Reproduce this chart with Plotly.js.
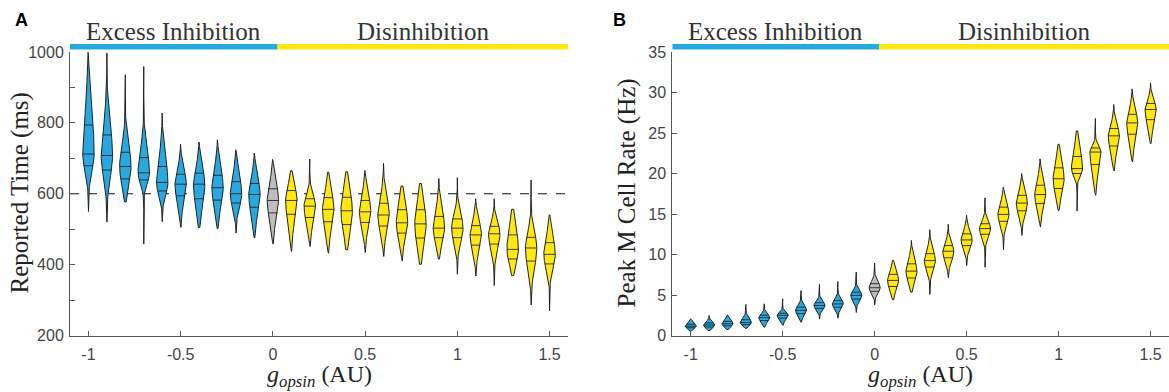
<!DOCTYPE html>
<html>
<head>
<meta charset="utf-8">
<script src="https://cdn.plot.ly/plotly-3.0.1.min.js"></script>
<style>html,body{margin:0;padding:0;background:#fff;}#chart{width:1169px;height:392px;}</style>
</head>
<body>
<div id="chart"></div>
<script>
// g_opsin values (categories)
const gOpsin = [-1,-0.9,-0.8,-0.7,-0.6,-0.5,-0.4,-0.3,-0.2,-0.1,0,0.1,0.2,0.3,0.4,0.5,0.6,0.7,0.8,0.9,1.0,1.1,1.2,1.3,1.4,1.5];
const xTickVals = [-1,-0.5,0,0.5,1,1.5];
const xTickText = ['-1','-0.5','0','0.5','1','1.5'];

// Panel A: Reported Time (ms) summary per violin
const aMin = [550,520,577,458,521,505,505,502,489,476,458,437,451,432,442,434,423,410,401,416,373,368,341,369,286,270];
const aQ1  = [679,667,642,639,608,594,586,582,574,562,546,542,533,521,513,519,509,489,475,476,476,455,458,416,410,402];
const aMed = [712,708,677,659,632,627,627,617,600,598,581,581,565,556,552,549,540,518,515,503,503,484,487,443,447,429];
const aQ3  = [794,766,717,702,677,655,658,652,634,629,614,609,586,589,590,581,573,555,555,536,529,510,508,484,477,462];
const aMax = [999,997,936,959,828,740,746,752,724,715,697,665,698,661,662,666,686,622,629,643,645,586,586,556,639,540];
const aTickVals = [200,300,400,500,600,700,800,900,1000];
const aTickText = ['200','','400','','600','','800','','1000'];
const aRef = 600;

// Panel B: Peak M Cell Rate (Hz) summary per violin
const bMin = [0.55,0.62,0.74,0.9,1.03,1.24,1.65,2.02,2.14,2.84,3.79,4.41,5.36,5.07,7.13,8.65,8.44,10.59,12.36,13.39,15.45,15.36,17.31,20.31,21.42,23.7];
const bQ1  = [0.95,1.05,1.2,1.35,1.85,2.15,2.7,3.35,3.5,4.5,5.45,6.05,7.1,8.45,9.6,11.1,12.5,14.1,15.4,16.3,18.15,20.0,21.1,23.4,24.85,26.65];
const bMed = [1.15,1.3,1.45,1.6,2.2,2.5,3.1,3.7,3.9,4.95,5.9,6.8,7.95,9.25,10.4,11.8,13.2,14.95,16.35,17.4,19.35,20.6,22.65,24.65,26.25,27.9];
const bQ3  = [1.4,1.55,1.75,1.95,2.5,2.75,3.5,4.05,4.3,5.35,6.4,7.55,8.85,10.1,11.1,12.55,13.8,15.85,17.3,18.55,20.7,22.1,23.15,25.55,27.3,28.65];
const bMax = [2.05,2.47,2.55,3.83,3.91,4.53,5.56,6.3,6.67,7.83,8.94,9.27,11.74,13.06,13.72,14.83,17.0,18.33,19.99,21.8,23.61,25.26,26.79,28.52,30.45,31.19];
const bTickVals = [0,5,10,15,20,25,30,35];

const regionLabels = ['Excess Inhibition','Disinhibition'];
const regionSplit = 0.025;

const BLUE = '#27A8E0', YELLOW = '#FFE70F', GRAY = '#BDBDBD';

function colorFor(g){ return g < 0 ? BLUE : (g > 0 ? YELLOW : GRAY); }

function violins(mn, q1, md, q3, mx, xa, ya, hw){
  const traces = [];
  const lx = [], ly = [];
  for (let i = 0; i < gOpsin.length; i++){
    const c = gOpsin[i];
    const sL = Math.max((md[i]-q1[i])/0.6745, 1e-6);
    const sU = Math.max((q3[i]-md[i])/0.6745, 1e-6);
    const f = y => { const s = y < md[i] ? sL : sU; const z = (y-md[i])/s; return Math.exp(-0.5*z*z); };
    const N = 80;
    const ys = [];
    for (let k = 0; k <= N; k++) ys.push(mn[i] + (mx[i]-mn[i])*k/N);
    const px = [], py = [];
    ys.forEach(y => { px.push(c + hw*f(y)); py.push(y); });
    for (let k = ys.length-1; k >= 0; k--){ px.push(c - hw*f(ys[k])); py.push(ys[k]); }
    px.push(px[0]); py.push(py[0]);
    traces.push({type:'scatter', mode:'lines', x:px, y:py, fill:'toself', fillcolor:colorFor(c),
      line:{color:'#222', width:1}, xaxis:xa, yaxis:ya, hoverinfo:'skip', showlegend:false});
    [q1[i], md[i], q3[i]].forEach(q => { const w = hw*f(q); lx.push(c-w, c+w, null); ly.push(q, q, null); });
  }
  traces.push({type:'scatter', mode:'lines', x:lx, y:ly, line:{color:'rgba(30,30,30,0.85)', width:1},
    xaxis:xa, yaxis:ya, hoverinfo:'skip', showlegend:false});
  return traces;
}

const data = [].concat(
  violins(aMin,aQ1,aMed,aQ3,aMax,'x','y',0.031),
  violins(bMin,bQ1,bMed,bQ3,bMax,'x2','y2',0.03)
);

const H = 392, W = 1169;
const axisFont = {family:'Liberation Sans, Arial, sans-serif', size:16, color:'#444'};
const xBase = {range:[-1.1,1.6], showgrid:false, zeroline:false, showline:true, linecolor:'#555', linewidth:1,
  ticks:'inside', ticklen:5, tickcolor:'#555', tickvals:xTickVals, ticktext:xTickText, tickfont:axisFont, ticklabelstandoff:4};
const yBase = {showgrid:false, zeroline:false, showline:true, linecolor:'#555', linewidth:1,
  ticks:'inside', ticklen:5, tickcolor:'#555', tickfont:axisFont, ticklabelstandoff:2, domain:[1-335.5/H, 1-52/H]};

const serif = {family:'Liberation Serif, Times New Roman, serif', size:25, color:'#333'};
const yTitleFont = {family:'Liberation Serif, Times New Roman, serif', size:25, color:'#222'};
const xTitleFont = {family:'Liberation Serif, Times New Roman, serif', size:24, color:'#222'};
const barY0 = 1-49.5/H, barY1 = 1-44/H;

const shapes = [
  {type:'line', xref:'x', yref:'y', x0:-1.1, x1:1.6, y0:aRef, y1:aRef, line:{color:'#111', width:1, dash:'dash'}, layer:'below'},
  {type:'rect', xref:'x', yref:'paper', x0:-1.1, x1:regionSplit, y0:barY0, y1:barY1, fillcolor:BLUE, line:{width:0}},
  {type:'rect', xref:'x', yref:'paper', x0:regionSplit, x1:1.6, y0:barY0, y1:barY1, fillcolor:YELLOW, line:{width:0}},
  {type:'rect', xref:'x2', yref:'paper', x0:-1.1, x1:regionSplit, y0:barY0, y1:barY1, fillcolor:BLUE, line:{width:0}},
  {type:'rect', xref:'x2', yref:'paper', x0:regionSplit, x1:1.6, y0:barY0, y1:barY1, fillcolor:YELLOW, line:{width:0}}
];

const labY = 1-32/H;
const xTitle = '<i>g</i><sub><i>opsin</i></sub> (AU)';
const C = {showarrow:false, xanchor:'center', yanchor:'middle'};
const annotations = [
  Object.assign({xref:'x', yref:'paper', x:(-1.1+regionSplit)/2, y:labY, text:regionLabels[0], font:serif}, C),
  Object.assign({xref:'x', yref:'paper', x:(regionSplit+1.6)/2, y:labY, text:regionLabels[1], font:serif}, C),
  Object.assign({xref:'x2', yref:'paper', x:(-1.1+regionSplit)/2, y:labY, text:regionLabels[0], font:serif}, C),
  Object.assign({xref:'x2', yref:'paper', x:(regionSplit+1.6)/2, y:labY, text:regionLabels[1], font:serif}, C),
  Object.assign({xref:'paper', yref:'paper', x:21/W, y:1-20/H, text:'<b>A</b>', font:{family:'Liberation Sans, Arial, sans-serif', size:18, color:'#000'}}, C),
  Object.assign({xref:'paper', yref:'paper', x:619/W, y:1-20/H, text:'<b>B</b>', font:{family:'Liberation Sans, Arial, sans-serif', size:18, color:'#000'}}, C),
  Object.assign({xref:'paper', yref:'paper', x:19/W, y:1-193.5/H, text:'Reported Time (ms)', textangle:-90, font:yTitleFont}, C),
  Object.assign({xref:'paper', yref:'paper', x:626/W, y:1-193.5/H, text:'Peak M Cell Rate (Hz)', textangle:-90, font:yTitleFont}, C),
  Object.assign({xref:'paper', yref:'paper', x:319/W, y:1-376/H, text:xTitle, font:xTitleFont}, C),
  Object.assign({xref:'paper', yref:'paper', x:920/W, y:1-376/H, text:xTitle, font:xTitleFont}, C)
];

const layout = {
  width:W, height:H, margin:{l:0, r:0, t:0, b:0}, paper_bgcolor:'#fff', plot_bgcolor:'#fff', showlegend:false,
  xaxis: Object.assign({}, xBase, {domain:[70/W, 568/W], anchor:'y'}),
  yaxis: Object.assign({}, yBase, {range:[200,1000], tickvals:aTickVals, ticktext:aTickText, anchor:'x'}),
  xaxis2: Object.assign({}, xBase, {domain:[672.3/W, 1], anchor:'y2'}),
  yaxis2: Object.assign({}, yBase, {range:[0,35], tickvals:bTickVals, anchor:'x2'}),
  shapes: shapes, annotations: annotations
};

Plotly.newPlot('chart', data, layout, {displayModeBar:false, staticPlot:true});
</script>
</body>
</html>
